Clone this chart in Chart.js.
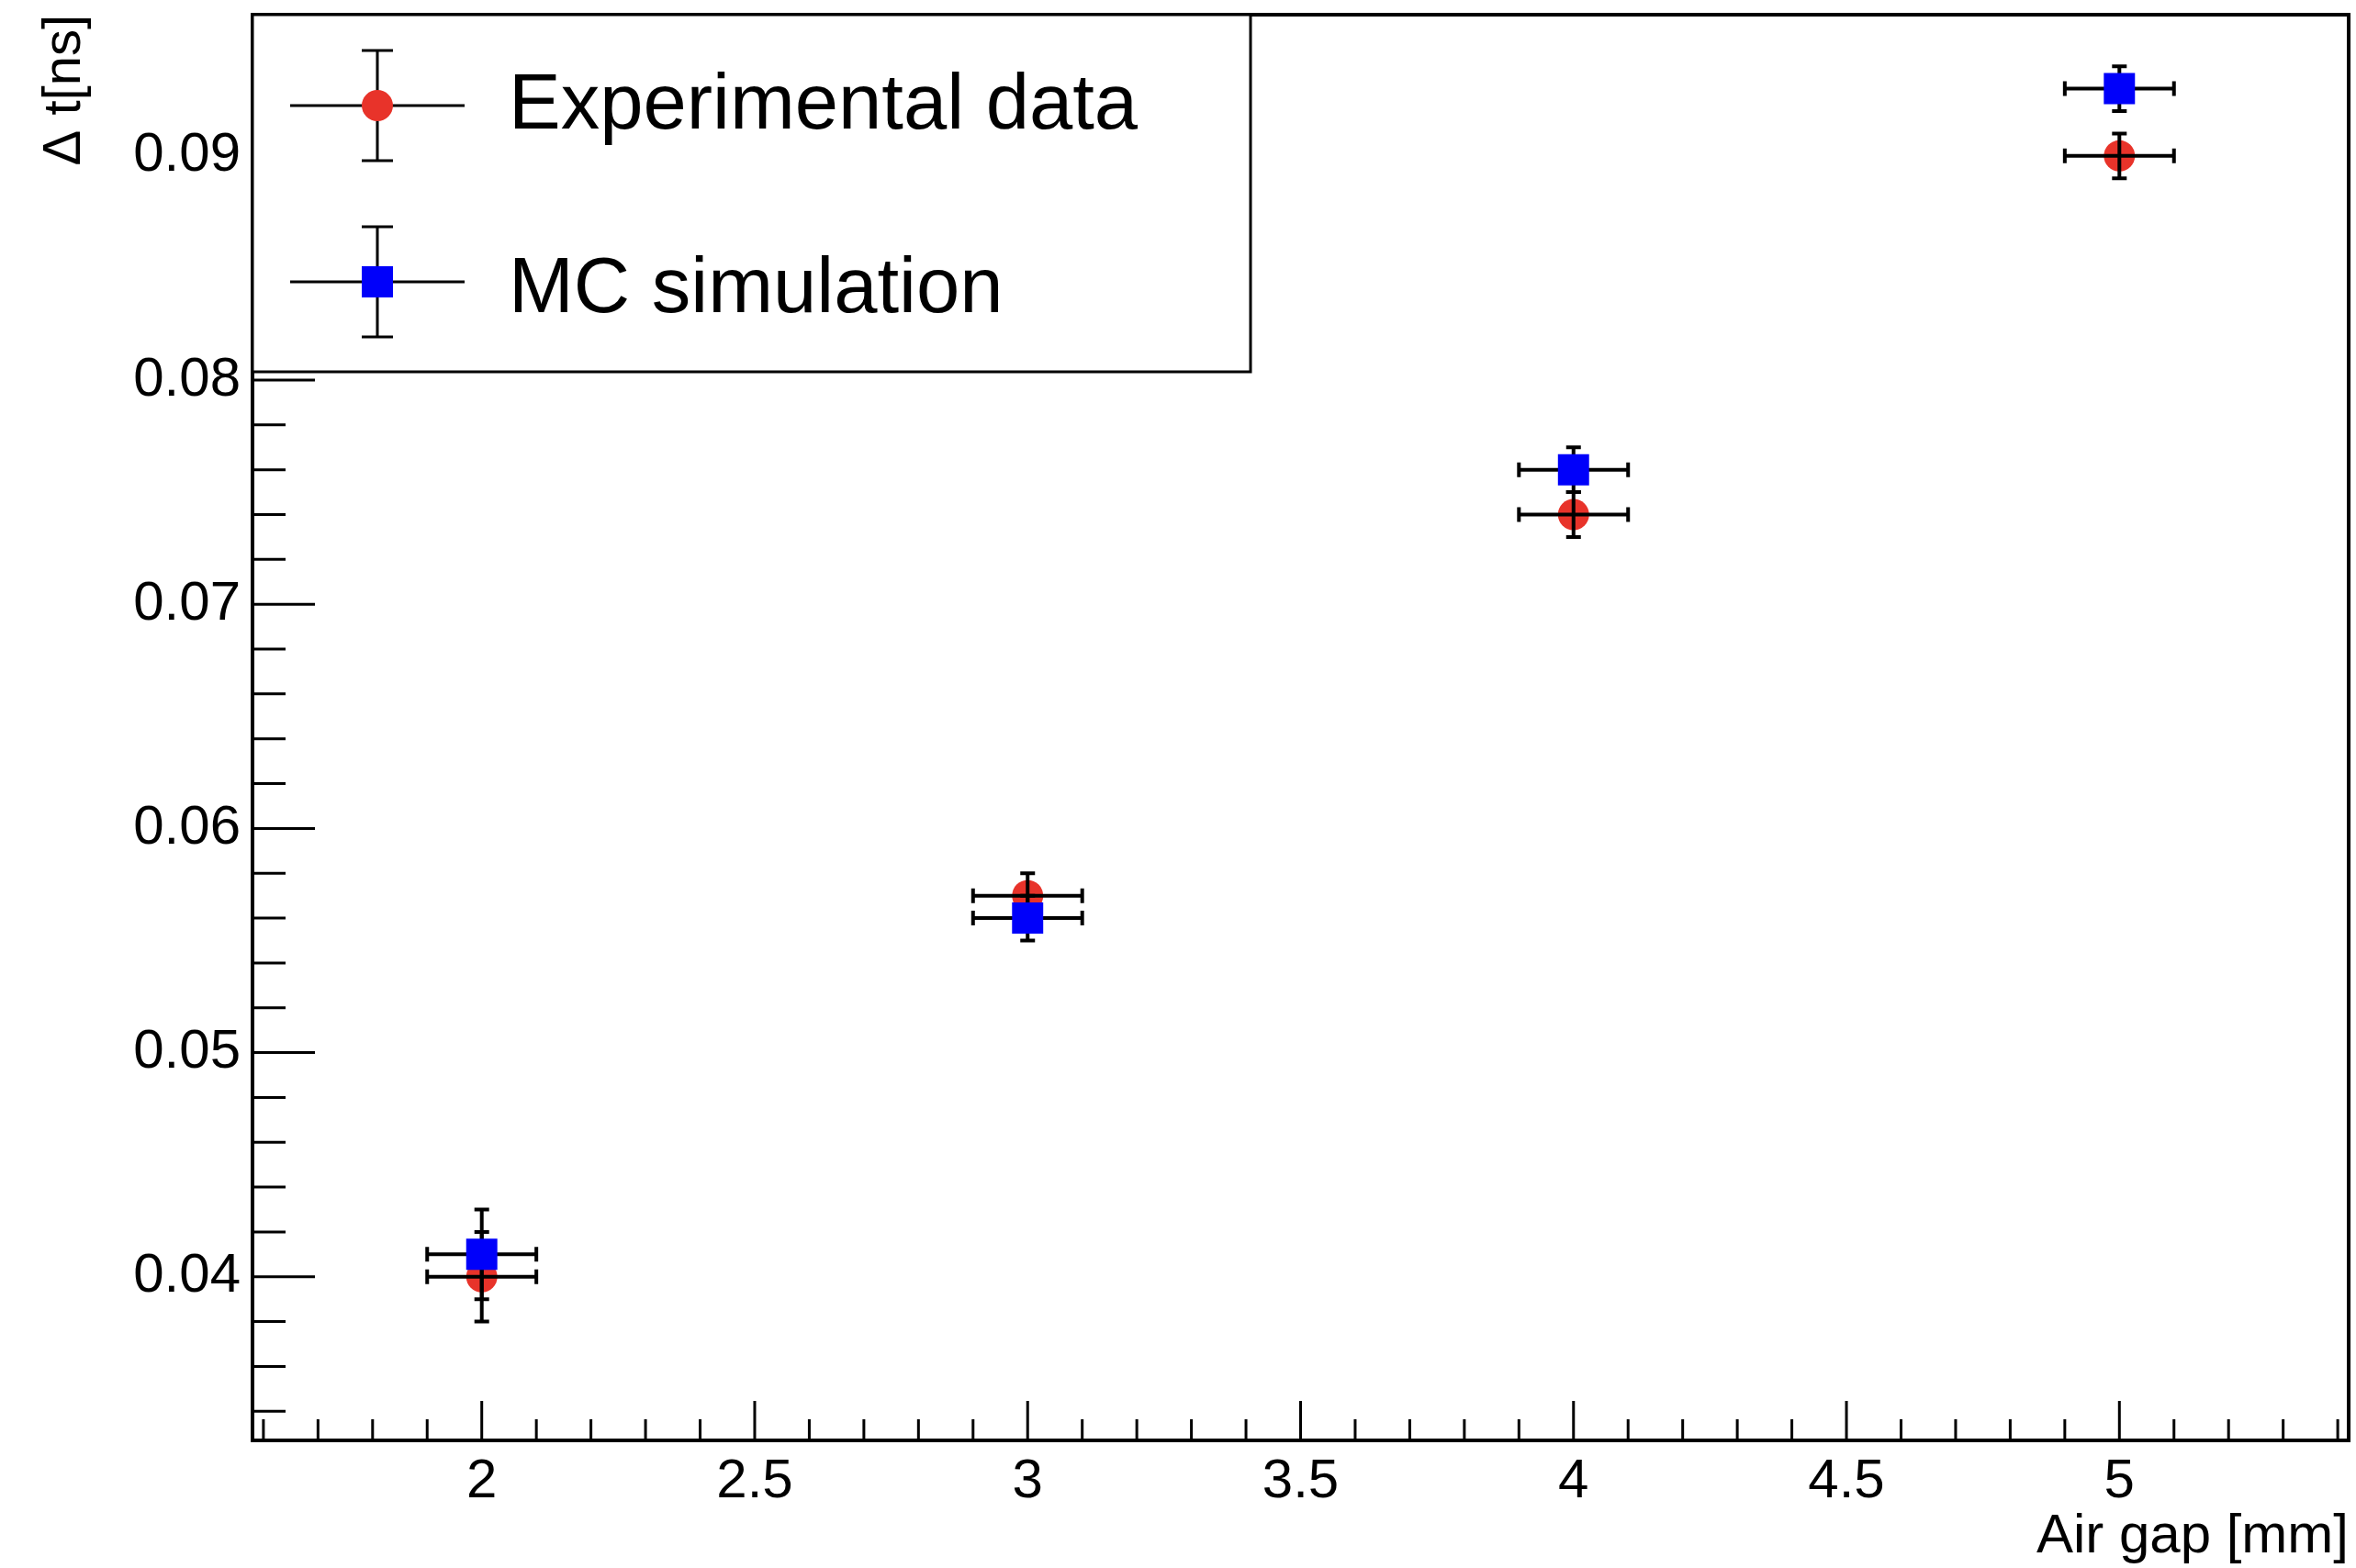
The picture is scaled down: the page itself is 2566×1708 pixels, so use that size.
<!DOCTYPE html>
<html>
<head>
<meta charset="utf-8">
<script src="https://cdn.jsdelivr.net/npm/chart.js@4.4.1/dist/chart.umd.min.js"></script>
<style>
  html, body { margin: 0; padding: 0; background: #fff; }
  canvas { display: block; }
</style>
</head>
<body>
<canvas id="gapChart" width="2566" height="1708"></canvas>
<script>
// Air gap values (shared by both graphs) and their errors
const airGap = [2, 3, 4, 5];
const airGapErr = [0.1, 0.1, 0.1, 0.1];

// Experimental data
const expDt = [0.040, 0.057, 0.074, 0.090];
const expDtErr = [0.002, 0.001, 0.001, 0.001];

// MC simulation
const mcDt = [0.041, 0.056, 0.076, 0.093];
const mcDtErr = [0.002, 0.001, 0.001, 0.001];

const seriesNames = ['Experimental data', 'MC simulation'];
const xTitle = 'Air gap [mm]';
const yTitle = 'Δ t[ns]';

// axis ranges (ROOT style: data range + 10%)
const xRange = [1.58, 5.42];
const yRange = [0.0327, 0.0963];

const RED = '#e8332a';
const BLUE = '#0000fa';
const FONT = '"Liberation Sans", Arial, Helvetica, sans-serif';

function isMultiple(v, step) {
    return Math.abs(v / step - Math.round(v / step)) < 1e-6;
}

function toPoints(xs, ys) {
    return xs.map((x, i) => ({ x: x, y: ys[i] }));
}

function drawMarker(ctx, style, color, x, y) {
    ctx.fillStyle = color;
    if (style === 'circle') {
        ctx.beginPath();
        ctx.arc(x, y, 17, 0, Math.PI * 2);
        ctx.fill();
    } else {
        ctx.fillRect(x - 17, y - 17, 34, 34);
    }
}

// Draw x / y error bars for one dataset
function drawErrors(chart, index) {
    const ds = chart.data.datasets[index];
    const meta = chart.getDatasetMeta(index);
    const xs = chart.scales.x, ys = chart.scales.y;
    const ctx = chart.ctx;
    const cap = 8;
    ctx.save();
    ctx.strokeStyle = '#000';
    ctx.lineWidth = 4;
    ds.data.forEach((p, i) => {
        const cx = meta.data[i].x, cy = meta.data[i].y;
        const x0 = xs.getPixelForValue(p.x - ds.xErr[i]);
        const x1 = xs.getPixelForValue(p.x + ds.xErr[i]);
        const y0 = ys.getPixelForValue(p.y - ds.yErr[i]);
        const y1 = ys.getPixelForValue(p.y + ds.yErr[i]);
        ctx.beginPath();
        ctx.moveTo(x0, cy); ctx.lineTo(x1, cy);
        ctx.moveTo(cx, y0); ctx.lineTo(cx, y1);
        ctx.moveTo(x0, cy - cap); ctx.lineTo(x0, cy + cap);
        ctx.moveTo(x1, cy - cap); ctx.lineTo(x1, cy + cap);
        ctx.moveTo(cx - cap, y0); ctx.lineTo(cx + cap, y0);
        ctx.moveTo(cx - cap, y1); ctx.lineTo(cx + cap, y1);
        ctx.stroke();
    });
    ctx.restore();
}

const errorBars = {
    id: 'errorBars',
    beforeDatasetDraw(chart, args) {
        if (!chart.data.datasets[args.index].barsOnTop) drawErrors(chart, args.index);
    },
    afterDatasetDraw(chart, args) {
        if (chart.data.datasets[args.index].barsOnTop) drawErrors(chart, args.index);
    }
};

// Frame, inward tick marks and the boxed legend
const rootFrame = {
    id: 'rootFrame',
    afterDraw(chart) {
        const ctx = chart.ctx;
        const a = chart.chartArea;
        const xs = chart.scales.x, ys = chart.scales.y;
        ctx.save();
        ctx.strokeStyle = '#000';
        ctx.lineWidth = 3;
        ctx.beginPath();
        xs.ticks.forEach(t => {
            const px = xs.getPixelForValue(t.value);
            const len = isMultiple(t.value, 0.5) ? 43 : 23;
            ctx.moveTo(px, a.bottom); ctx.lineTo(px, a.bottom - len);
        });
        ys.ticks.forEach(t => {
            const py = ys.getPixelForValue(t.value);
            const len = isMultiple(t.value, 0.01) ? 68 : 36;
            ctx.moveTo(a.left, py); ctx.lineTo(a.left + len, py);
        });
        ctx.stroke();

        ctx.lineWidth = 4;
        ctx.strokeRect(a.left, a.top, a.right - a.left, a.bottom - a.top);

        // legend box
        const lx = a.left, ly = a.top, lw = 1087, lh = 389;
        ctx.fillStyle = '#fff';
        ctx.fillRect(lx, ly, lw, lh);
        ctx.lineWidth = 3;
        ctx.strokeRect(lx, ly, lw, lh);

        const rows = [
            { my: 99, ty: 124, style: 'circle', color: RED },
            { my: 291, ty: 324, style: 'rect', color: BLUE }
        ];
        rows.forEach((r, i) => {
            const mx = lx + 136, my = ly + r.my;
            ctx.strokeStyle = '#000';
            ctx.lineWidth = 3;
            ctx.beginPath();
            ctx.moveTo(mx - 95, my); ctx.lineTo(mx + 95, my);
            ctx.moveTo(mx, my - 60); ctx.lineTo(mx, my + 60);
            ctx.moveTo(mx - 17, my - 60); ctx.lineTo(mx + 17, my - 60);
            ctx.moveTo(mx - 17, my + 60); ctx.lineTo(mx + 17, my + 60);
            ctx.stroke();
            drawMarker(ctx, r.style, r.color, mx, my);
            ctx.fillStyle = '#000';
            ctx.font = '85px ' + FONT;
            ctx.textAlign = 'left';
            ctx.textBaseline = 'alphabetic';
            ctx.fillText(seriesNames[i], lx + 279, ly + r.ty);
        });
        ctx.restore();
    }
};

new Chart(document.getElementById('gapChart'), {
    type: 'scatter',
    data: {
        datasets: [
            {
                label: seriesNames[0],
                data: toPoints(airGap, expDt),
                xErr: airGapErr,
                yErr: expDtErr,
                barsOnTop: true,
                order: 2,
                pointStyle: 'circle',
                pointRadius: 17,
                backgroundColor: RED,
                borderColor: RED,
                borderWidth: 0
            },
            {
                label: seriesNames[1],
                data: toPoints(airGap, mcDt),
                xErr: airGapErr,
                yErr: mcDtErr,
                barsOnTop: false,
                order: 1,
                pointStyle: 'rect',
                pointRadius: 24,
                backgroundColor: BLUE,
                borderColor: BLUE,
                borderWidth: 0
            }
        ]
    },
    options: {
        responsive: false,
        devicePixelRatio: 1,
        animation: false,
        events: [],
        layout: { autoPadding: false, padding: { top: 16, right: 8, left: 0, bottom: 0 } },
        plugins: { legend: { display: false }, tooltip: { enabled: false } },
        scales: {
            x: {
                type: 'linear',
                min: xRange[0],
                max: xRange[1],
                grid: { display: false, drawTicks: false },
                border: { display: false },
                ticks: {
                    stepSize: 0.1,
                    includeBounds: false,
                    autoSkip: false,
                    maxTicksLimit: 100,
                    maxRotation: 0,
                    minRotation: 0,
                    padding: 9,
                    color: '#000',
                    font: { family: FONT, size: 60 },
                    callback: v => isMultiple(v, 0.5) ? String(v) : ''
                },
                title: {
                    display: true,
                    text: xTitle,
                    align: 'end',
                    color: '#000',
                    padding: { top: 0, bottom: 0 },
                    font: { family: FONT, size: 60, lineHeight: 1.13 }
                },
                afterFit: s => {
                    s.height = 139;
                    s.paddingLeft = 0;
                    s.paddingRight = 0;
                }
            },
            y: {
                type: 'linear',
                min: yRange[0],
                max: yRange[1],
                grid: { display: false, drawTicks: false },
                border: { display: false },
                ticks: {
                    stepSize: 0.002,
                    includeBounds: false,
                    autoSkip: false,
                    maxTicksLimit: 100,
                    padding: 13,
                    color: '#000',
                    font: { family: FONT, size: 60 },
                    callback: v => isMultiple(v, 0.01) ? v.toFixed(2) : ''
                },
                title: {
                    display: true,
                    text: yTitle,
                    align: 'end',
                    color: '#000',
                    padding: { top: 36, bottom: 0 },
                    font: { family: FONT, size: 58 }
                },
                afterFit: s => {
                    s.width = 275;
                    s.paddingTop = 0;
                    s.paddingBottom = 0;
                }
            }
        }
    },
    plugins: [errorBars, rootFrame]
});
</script>
</body>
</html>
